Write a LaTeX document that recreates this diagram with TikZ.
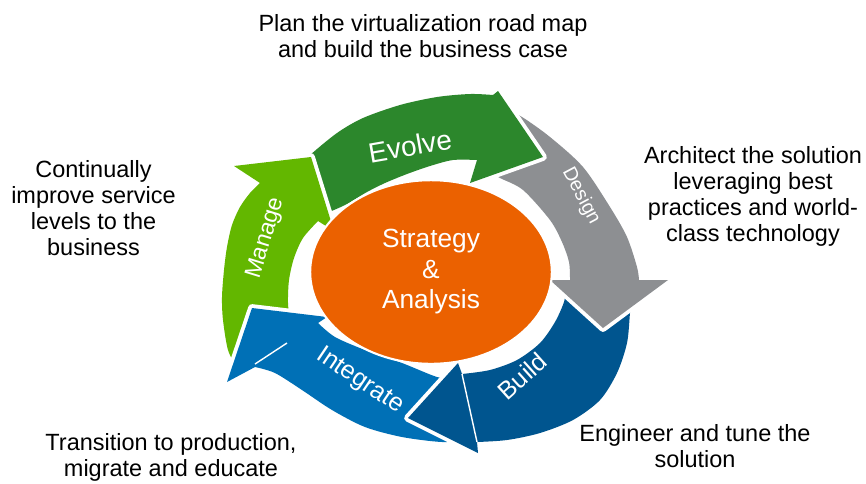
\documentclass[tikz,border=0pt]{standalone}
\usepackage{fontspec}
\setmainfont{Liberation Sans}
\usetikzlibrary{shapes.geometric}

\definecolor{evolvegreen}{RGB}{44,135,44}
\definecolor{designgray}{RGB}{141,143,146}
\definecolor{buildblue}{RGB}{0,85,143}
\definecolor{integrateblue}{RGB}{0,112,182}
\definecolor{managegreen}{RGB}{99,183,0}
\definecolor{coreorange}{RGB}{235,97,0}

% outline of the Manage arrow, drawn twice
\newcommand{\managepath}{plot[smooth] coordinates {(237,368) (228,350) (223,320) (222,297) (224,270) (227,247) (232,225) (240,207) (250,193) (260,183)}
  -- (234,166) -- (311,157) -- (334,231) -- (318,221)
  -- plot[smooth] coordinates {(318,221) (303,238) (294,258) (289,280) (288,303) (290,322)} -- cycle}

\begin{document}
\begin{tikzpicture}[x=0.025cm, y=-0.025cm,
    ring/.style={fill=#1, preaction={draw=white, line width=5.5pt, line join=round}},
    seam/.style={draw=white, line width=1pt},
    steplabel/.style={text=white, inner sep=0pt},
    note/.style={align=center, anchor=north, inner sep=0pt, font=\fontsize{16.7}{18.5}\selectfont}]

    \useasboundingbox (0,0) rectangle (866,483);

    % Manage
    \path[ring=managegreen] \managepath;

    % Integrate
    \path[ring=integrateblue] plot[smooth] coordinates {(468,440) (442,442) (402,437) (365,427) (332,410) (302,390) (275,373) (255,367)}
        -- (227,382) -- (252,308) -- (327,317) -- (318,323)
        -- plot[smooth] coordinates {(318,323) (335,337) (365,350) (402,363) (437,377) (452,378)} -- cycle;
    \draw[seam] (255,364) -- (287,343);

    % Build
    \path[ring=buildblue] plot[smooth] coordinates {(632,296) (630,313) (627,343) (617,373) (600,400) (573,420) (540,433) (507,440) (477,442)}
        -- (478,453) -- (408,418) -- (458,363) -- (462,374)
        -- plot[smooth] coordinates {(462,374) (490,370) (517,360) (540,343) (555,322) (564,302) (566,289)} -- cycle;
    \draw[seam] (462,374) -- (477,442);

    % Design
    \path[ring=designgray] plot[smooth] coordinates {(506,110) (522,117) (550,137) (583,167) (610,207) (627,237) (637,267) (639,280)}
        -- (668,280) -- (603,328) -- (550,280) -- (570,280)
        -- plot[smooth] coordinates {(570,280) (569,262) (562,242) (550,220) (523,190) (500,178) (486,170)} -- cycle;

    % Evolve
    \path[ring=evolvegreen] plot[smooth] coordinates {(300,165) (310,155) (337,133) (363,118) (400,105) (437,97) (470,94) (493,95)}
        -- (498,91) -- (543,157) -- (470,183) -- (477,160)
        -- plot[smooth] coordinates {(477,160) (453,160) (430,166) (407,174) (385,183) (367,192) (345,205) (322,215)} -- cycle;

    % Manage head lies over the tail of Evolve
    \begin{scope}
        \clip (228,138) rectangle (350,245);
        \path[ring=managegreen] \managepath;
    \end{scope}

    % Core
    \node[ellipse, fill=coreorange, draw=white, line width=1.5pt, minimum width=6.04cm, minimum height=4.59cm,
        inner sep=0pt, text=white, align=center, font=\fontsize{18.7}{21.7}\selectfont] (core) at (431,272)
        {Strategy\\\&\\Analysis};

    % Arrow labels
    \node[steplabel, rotate=10, font=\fontsize{19.9}{22}\selectfont] (evolve) at (410,146) {Evolve};
    \node[steplabel, rotate=-62, font=\fontsize{13.9}{16}\selectfont] (design) at (581,196) {Design};
    \node[steplabel, rotate=42, font=\fontsize{17.8}{20}\selectfont] (build) at (522,376) {Build};
    \node[steplabel, rotate=-34, font=\fontsize{17.8}{20}\selectfont] (integrate) at (360,381) {Integrate};
    \node[steplabel, rotate=73, font=\fontsize{16.4}{18}\selectfont] (manage) at (266,238) {Manage};

    % Notes
    \node[note] (plan) at (423,13.8) {Plan the virtualization road map\\and build the business case};
    \node[note] (architect) at (753,146.4) {Architect the solution\\leveraging best\\practices and world-\\class technology};
    \node[note] (improve) at (93.5,159.8) {Continually\\improve service\\levels to the\\business};
    \node[note] (transition) at (171,433) {Transition to production,\\migrate and educate};
    \node[note] (engineer) at (695,424) {Engineer and tune the\\solution};

\end{tikzpicture}
\end{document}
